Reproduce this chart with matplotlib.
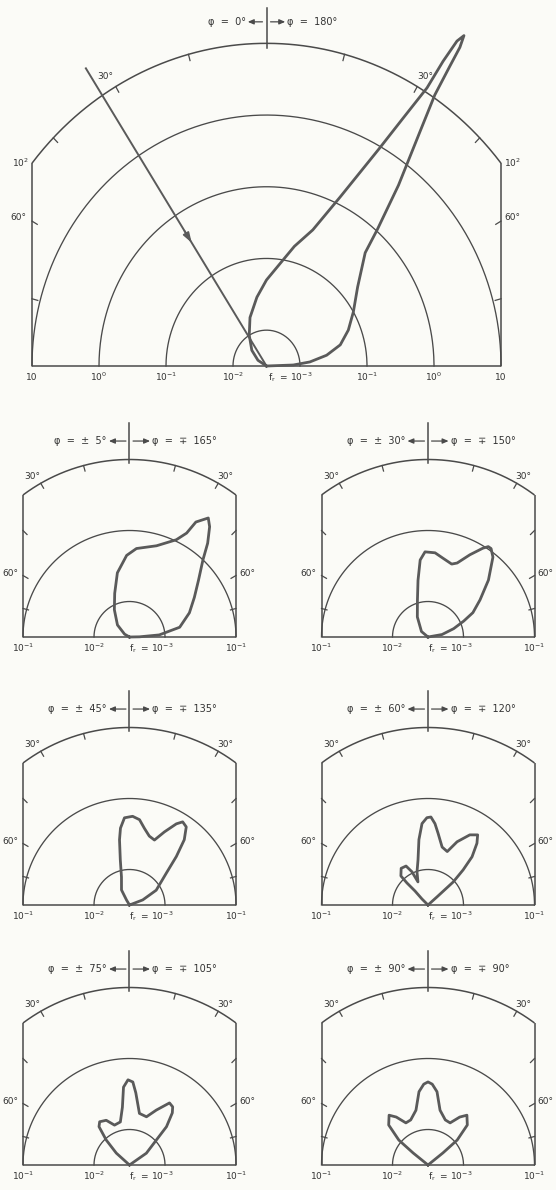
import numpy as np
import matplotlib
matplotlib.use("Agg")
import matplotlib.pyplot as plt

W, H, DPI = 556, 1190, 100
BG = "#fbfbf7"
LC = "#4a4a4a"
CC = "#5a5a5a"

# ---------------- data: polar angle (deg, from normal) and log10(f_r) ----------------
top_theta = [90, 88, 85, 80.5, 75, 67.7, 59.8, 51, 43, 41, 38, 35, 33.6, 33.2, 33.0, 32.6,
             32.1, 31.8, 31.7, 30.5, 29, 25, 20, 14, 9.5, 0, -8.5, -20, -31, -45, -58, -90]
top_logf = [-3, -2.2, -1.85, -1.59, -1.36, -1.18, -1.0, -0.75, -0.34, 0.02, 0.7, 1.5, 2.04, 2.5, 2.8, 2.97,
            2.85, 2.5, 2.06, 1.5, 0.96, 0.1, -0.48, -0.78, -1.0, -1.3, -1.53, -1.78, -2.0, -2.38, -2.7, -3]
incident_theta = -33.0
incident_logf = 2.45

p1_theta = [90, 89, 86, 79, 68, 58.6, 50.5, 43.6, 39.8, 36, 33.5, 30, 28.8, 25.7, 16.5, 4.5, -2,
            -10.7, -18.7, -29, -45, -60, -90]
p1_logf = [-3, -2.72, -2.16, -1.78, -1.59, -1.43, -1.24, -1.0, -0.78, -0.58, -0.49, -0.63, -0.83, -0.98,
           -1.16, -1.25, -1.35, -1.58, -1.85, -2.12, -2.52, -2.84, -3]

p2_theta = [90, 80, 72, 66, 61.5, 54.5, 46.7, 39.1, 35.5, 33.7, 31.7, 27, 21.5, 18, 10.7, 4.8, -2,
            -5.8, -10, -16, -28, -50, -90]
p2_logf = [-3, -2.6, -2.24, -1.95, -1.78, -1.6, -1.33, -1.05, -0.97, -0.97, -1.03, -1.2, -1.38, -1.42,
           -1.37, -1.31, -1.3, -1.41, -1.69, -1.96, -2.36, -2.76, -3]

p3_theta = [90, 69, 61, 49, 44, 40, 36, 32.6, 30, 25.5, 21, 16, 11, 6.7, 2, -3.3, -6.7, -8.7,
            -11.5, -16, -28, -31, -90]
p3_logf = [-3, -2.6, -2.14, -1.81, -1.55, -1.3, -1.14, -1.11, -1.18, -1.36, -1.52, -1.49, -1.4, -1.29,
           -1.25, -1.27, -1.41, -1.57, -1.85, -2.18, -2.52, -2.84, -3]

p4_theta = [90, 48, 47.6, 45, 42.4, 38.4, 35.3, 30.8, 24.7, 19.8, 13.7, 8, 4.9, 1.9, -0.7, -4.2, -7.9,
            -12.5, -18.4, -23.5, -25.8, -29.4, -36.2, -43, -43.7, -42.9, -45, -90]
p4_logf = [-3, -2.66, -2.04, -1.8, -1.58, -1.39, -1.29, -1.35, -1.52, -1.7, -1.66, -1.48, -1.35, -1.26,
           -1.27, -1.35, -1.57, -1.85, -2.02, -2.29, -1.98, -1.87, -1.86, -1.94, -2.14, -2.46, -2.76, -3]

p5_theta = [90, 55, 47, 44, 39.4, 36.6, 32.8, 26, 19.4, 10.9, 5, 2.3, -1, -4.4, -7, -12, -20.6,
            -27.5, -34.6, -38.5, -43, -48, -90]
p5_logf = [-3, -2.42, -1.98, -1.75, -1.55, -1.48, -1.46, -1.64, -1.78, -1.76, -1.48, -1.33, -1.3, -1.4,
           -1.68, -1.88, -1.9, -1.79, -1.76, -1.81, -2.04, -2.5, -3]

p6_theta = [-90, -51, -49.5, -44.5, -38, -33.5, -27.7, -21, -12.4, -7, -3, 0, 3, 7, 12.4, 21, 27.7,
            33.5, 38, 44.5, 49.5, 51, 90]
p6_logf = [-3, -2.46, -1.96, -1.71, -1.61, -1.69, -1.83, -1.82, -1.71, -1.46, -1.36, -1.33, -1.36, -1.46,
           -1.71, -1.82, -1.83, -1.69, -1.61, -1.71, -1.96, -2.46, -3]

small_left_labels = ["φ  =  ±  5°", "φ  =  ±  30°", "φ  =  ±  45°", "φ  =  ±  60°", "φ  =  ±  75°", "φ  =  ±  90°"]
small_right_labels = ["φ  =  ∓  165°", "φ  =  ∓  150°", "φ  =  ∓  135°", "φ  =  ∓  120°", "φ  =  ∓  105°", "φ  =  ∓  90°"]
top_left_label = "φ  =  0°"
top_right_label = "φ  =  180°"


def logf_to_r(lf):
    lf = np.asarray(lf, float)
    return np.where(lf >= -2, lf + 2.5, (lf + 3.0) / 2.0)


def polar_xy(theta, lf):
    r = logf_to_r(lf)
    t = np.radians(np.asarray(theta, float))
    return r * np.sin(t), r * np.cos(t)


fig = plt.figure(figsize=(W / DPI, H / DPI), dpi=DPI, facecolor=BG)


def make_ax(left, top, width, height, cx, by, ux, uy):
    ax = fig.add_axes([left / W, 1 - (top + height) / H, width / W, height / H])
    ax.set_xlim((left - cx) / ux, (left + width - cx) / ux)
    ax.set_ylim((by - (top + height)) / uy, (by - top) / uy)
    ax.axis("off")
    ax.patch.set_alpha(0)
    return ax


def draw_frame(ax, R, A, rings, ux, uy, tick_len, lw=1.1):
    kw = dict(color=LC, lw=lw, solid_capstyle="butt", clip_on=False)
    hc = np.sqrt(A ** 2 - R ** 2)
    ax.plot([-R, R], [0, 0], **kw)
    ax.plot([-R, -R], [0, hc], **kw)
    ax.plot([R, R], [0, hc], **kw)
    tc = np.arcsin(R / A)
    t = np.linspace(-tc, tc, 300)
    ax.plot(A * np.sin(t), A * np.cos(t), **kw)
    for rr in rings:
        t = np.linspace(-np.pi / 2, np.pi / 2, 300)
        ax.plot(rr * np.sin(t), rr * np.cos(t), color=LC, lw=0.95, clip_on=False)
    for a in [15, 30, 45, 60, 75]:
        for s in (-1, 1):
            ar = np.radians(a)
            if ar < tc:
                rb = A
            else:
                rb = R / np.sin(ar)
            ux_, uy_ = s * np.sin(ar), np.cos(ar)
            ax.plot([rb * ux_, (rb - tick_len) * ux_], [rb * uy_, (rb - tick_len) * uy_],
                    color=LC, lw=0.9, clip_on=False)
    return hc


def header(ax, A, y_lo, y_hi, ytext, left, right, a0, a1, xt, fs):
    ax.plot([0, 0], [y_lo, y_hi], color=LC, lw=1.1, clip_on=False)
    for s in (-1, 1):
        ax.annotate("", xy=(s * a1, ytext), xytext=(s * a0, ytext),
                    arrowprops=dict(arrowstyle="-|>,head_length=0.35,head_width=0.15",
                                    color=LC, lw=0.9, shrinkA=0, shrinkB=0),
                    annotation_clip=False)
    ax.text(-xt, ytext, left, ha="right", va="center", fontsize=fs, color="#333333")
    ax.text(xt, ytext, right, ha="left", va="center", fontsize=fs, color="#333333")


FS = 6.5

# ---------------- top panel ----------------
ux, uy = 67.0, 71.7
ax = make_ax(0, 0, 556, 400, 266.5, 366, ux, uy)
R, A = 3.5, 4.5
hc = draw_frame(ax, R, A, [0.5, 1.5, 2.5, 3.5], ux, uy, 0.09)
header(ax, A, 4.43, 5.0, 4.8, top_left_label, top_right_label, 0.06, 0.28, 0.31, 7)
x, y = polar_xy(top_theta, top_logf)
ax.plot(x, y, color=CC, lw=2.0, solid_joinstyle="round", clip_on=False)
# incident direction
xi, yi = polar_xy([incident_theta, incident_theta], [incident_logf, -3])
ax.plot(xi, yi, color=CC, lw=1.4, clip_on=False)
xa, ya = polar_xy([incident_theta, incident_theta], [-0.25, -0.45])
ax.annotate("", xy=(xa[1], ya[1]), xytext=(xa[0], ya[0]),
            arrowprops=dict(arrowstyle="-|>,head_length=0.6,head_width=0.2", color=CC, lw=1.2,
                            shrinkA=0, shrinkB=0), annotation_clip=False)
dy = -11 / uy
for xv, lab in [(-3.5, "10"), (-2.5, r"$10^{0}$"), (-1.5, r"$10^{-1}$"), (-0.5, r"$10^{-2}$"),
                (1.5, r"$10^{-1}$"), (2.5, r"$10^{0}$"), (3.5, "10")]:
    ax.text(xv, dy, lab, ha="center", va="center", fontsize=FS, color="#333333")
ax.text(0.02, dy, r"$\mathrm{f_r}$  = $10^{-3}$", ha="left", va="center", fontsize=FS, color="#333333")
t30 = np.radians(30)
ax.text(-A * np.sin(t30) - 10 / ux, A * np.cos(t30) + 10 / uy, "30°", ha="center", va="center", fontsize=FS, color="#333333")
ax.text(A * np.sin(t30) + 8 / ux, A * np.cos(t30) + 10 / uy, "30°", ha="center", va="center", fontsize=FS, color="#333333")
h60 = R / np.tan(np.radians(60))
ax.text(-R - 6 / ux, h60 + 4 / uy, "60°", ha="right", va="center", fontsize=FS, color="#333333")
ax.text(R + 3 / ux, h60 + 4 / uy, "60°", ha="left", va="center", fontsize=FS, color="#333333")
ax.text(-R - 3 / ux, hc, r"$10^{2}$", ha="right", va="center", fontsize=FS, color="#333333")
ax.text(R + 3 / ux, hc, r"$10^{2}$", ha="left", va="center", fontsize=FS, color="#333333")

# ---------------- small panels ----------------
small = [(p1_theta, p1_logf), (p2_theta, p2_logf), (p3_theta, p3_logf),
         (p4_theta, p4_logf), (p5_theta, p5_logf), (p6_theta, p6_logf)]
rows = [(400, 265, 637), (665, 265, 905), (930, 260, 1165)]
cols = [(0, 278, 129.5), (278, 278, 428.0)]
u = 71.0
for i, (th, lf) in enumerate(small):
    rtop, rh, by = rows[i // 2]
    cl, cw, cx = cols[i % 2]
    ax = make_ax(cl, rtop, cw, rh, cx, by, u, u)
    R, A = 1.5, 2.5
    hc = draw_frame(ax, R, A, [0.5, 1.5], u, u, 0.08)
    header(ax, A, 2.45, 3.01, 2.76, small_left_labels[i], small_right_labels[i], 0.05, 0.29, 0.32, 7)
    x, y = polar_xy(th, lf)
    ax.plot(x, y, color=CC, lw=2.0, solid_joinstyle="round", clip_on=False)
    dy = -11 / u
    for xv, lab in [(-1.5, r"$10^{-1}$"), (-0.5, r"$10^{-2}$"), (1.5, r"$10^{-1}$")]:
        ax.text(xv, dy, lab, ha="center", va="center", fontsize=FS, color="#333333")
    ax.text(0.0, dy, r"$\mathrm{f_r}$  = $10^{-3}$", ha="left", va="center", fontsize=FS, color="#333333")
    ax.text(-A * np.sin(t30) - 8 / u, A * np.cos(t30) + 7 / u, "30°", ha="center", va="center", fontsize=FS, color="#333333")
    ax.text(A * np.sin(t30) + 7 / u, A * np.cos(t30) + 7 / u, "30°", ha="center", va="center", fontsize=FS, color="#333333")
    h60 = R / np.tan(np.radians(60))
    ax.text(-R - 5 / u, h60 + 2 / u, "60°", ha="right", va="center", fontsize=FS, color="#333333")
    ax.text(R + 3 / u, h60 + 2 / u, "60°", ha="left", va="center", fontsize=FS, color="#333333")

fig.savefig("out.png", dpi=DPI, facecolor=BG)
